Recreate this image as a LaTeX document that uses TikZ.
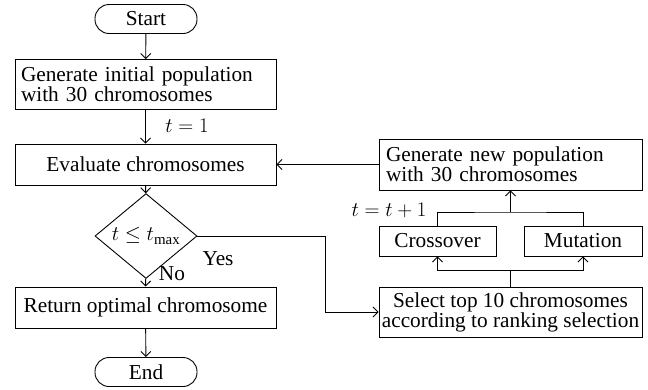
\documentclass[tikz,border=0pt]{standalone}
\usepackage{fontspec}
\setmainfont{Liberation Serif}
\usetikzlibrary{shapes.geometric,arrows.meta}
\begin{document}
\begin{tikzpicture}[x=1pt,y=-1pt,>={Straight Barb[length=5pt,width=10pt]},line width=0.9pt,font=\fontsize{21.3}{20}\selectfont]

\tikzstyle{term}=[rectangle,rounded corners=14pt,draw,minimum width=102pt,minimum height=29pt,inner sep=0pt]
\tikzstyle{box}=[rectangle,draw,inner sep=0pt,minimum height=41pt]
\tikzstyle{test}=[diamond,draw,inner sep=0pt,minimum width=102pt,minimum height=60pt]

\useasboundingbox (0,0) rectangle (648,389);

\node[term] (start) at (146,19) {Start} ;
\node[box,minimum width=261pt,minimum height=50pt,text width=249pt,align=left] (init) at (145.5,84.5) {Generate initial population\\with 30 chromosomes} ;
\node       (tone) at (187,126) {$t = 1$} ;
\node[box,minimum width=261pt] (eval) at (145.5,164.5) {Evaluate chromosomes} ;
\node[test] (test) at (146,236) {$t \le t_{\max}$} ;
\node       (yes) at (218,259) {Yes} ;
\node       (no) at (172,274) {No} ;
\node[box,minimum width=261pt] (ret) at (145.5,307.5) {Return optimal chromosome} ;
\node[term] (end) at (146,372) {End} ;

\node[box,minimum width=263pt,minimum height=51pt,text width=249pt,align=left] (newpop) at (510.5,164.5) {Generate new population\\with 30 chromosomes} ;
\node       (tinc) at (389,210) {$t = t + 1$} ;
\node[box,minimum width=117pt,minimum height=30pt] (cross) at (437.5,241) {Crossover} ;
\node[box,minimum width=118pt,minimum height=30pt] (mut) at (583,241) {Mutation} ;
\node[box,minimum width=263pt,minimum height=50pt,align=center] (select) at (510.5,312) {Select top 10 chromosomes\\according to ranking selection} ;

\coordinate (bend)  at (325,236) ;
\coordinate (split) at (510.5,270) ;
\coordinate (join)  at (510.5,212) ;

\draw [->] (start) -- (init);
\draw [->] (init) -- (eval);
\draw [->] (eval) -- (test);
\draw [->] (test) -- (ret);
\draw [->] (ret) -- (end);
\draw [->] (test.east) -- (bend) |- (select.west);
\draw [->] (newpop.west) -- (eval.east);
\draw (select.north) -- (split);
\draw [->] (split) -| (cross.south);
\draw [->] (split) -| (mut.south);
\draw (cross.north) |- (join) -| (mut.north);
\draw [->] (join) -- (newpop.south);

\end{tikzpicture}
\end{document}
